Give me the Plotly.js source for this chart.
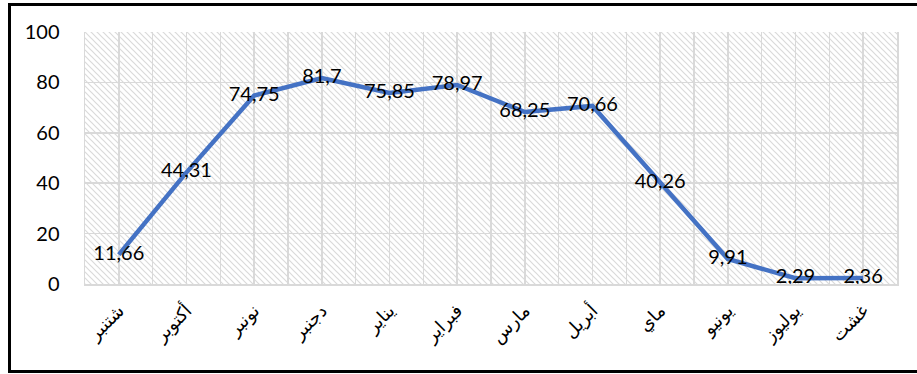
<!DOCTYPE html>
<html>
<head>
<meta charset="utf-8">
<script src="https://cdn.plot.ly/plotly-3.0.1.min.js"></script>
<style>
  html, body { margin: 0; padding: 0; background: #ffffff; }
  #wrap { position: relative; width: 917px; height: 374px; overflow: hidden; }
  #chart { position: absolute; left: 0; top: 0; width: 917px; height: 374px; }
  #frame {
    position: absolute; left: 8px; top: 3px; width: 930px; height: 364px;
    border: 3px solid #000000; pointer-events: none;
  }
</style>
</head>
<body>
<div id="wrap">
  <div id="chart"></div>
  <div id="frame"></div>
</div>
<script>
// Months of the season (Moroccan month names)
const months = ['شتنبر', 'أكتوبر', 'نونبر', 'دجنبر', 'يناير', 'فبراير',
                'مارس', 'أبريل', 'ماي', 'يونيو', 'يوليوز', 'غشت'];
// Monthly values
const values = [11.66, 44.31, 74.75, 81.7, 75.85, 78.97,
                68.25, 70.66, 40.26, 9.91, 2.29, 2.36];
// Value axis ticks
const yTicks = [0, 20, 40, 60, 80, 100];

const idx = months.map((_, i) => i);
const labels = values.map(v => String(v).replace('.', ','));

// Diagonal hatch for the plotting area
const hatch =
  "<svg xmlns='http://www.w3.org/2000/svg' width='812' height='252'>" +
  "<defs><pattern id='h' patternUnits='userSpaceOnUse' width='6' height='6'>" +
  "<path d='M-1,-1 L7,7 M5,-1 L7,1 M-1,5 L1,7' stroke='#dadada' stroke-width='1.2'/>" +
  "</pattern></defs><rect width='812' height='252' fill='url(#h)'/></svg>";

const trace = {
  x: idx,
  y: values,
  type: 'scatter',
  mode: 'lines+text',
  line: { color: '#4472C4', width: 4.5, shape: 'linear' },
  text: labels,
  textposition: 'middle center',
  textfont: { family: 'Lato, Carlito, sans-serif', size: 20, color: '#000000' },
  hoverinfo: 'skip',
  cliponaxis: false
};

const gridColor = '#d9d9d9';

const layout = {
  width: 917,
  height: 374,
  margin: { l: 85, r: 20, t: 32, b: 90 },
  paper_bgcolor: '#ffffff',
  plot_bgcolor: 'rgba(0,0,0,0)',
  showlegend: false,
  images: [{
    source: 'data:image/svg+xml;charset=utf-8,' + encodeURIComponent(hatch),
    xref: 'paper', yref: 'paper',
    x: 0, y: 1, sizex: 1, sizey: 1,
    xanchor: 'left', yanchor: 'top',
    sizing: 'stretch', layer: 'below'
  }],
  xaxis: {
    type: 'linear',
    range: [-0.5, idx.length - 0.5],
    tickmode: 'array',
    tickvals: idx,
    ticktext: months,
    tickangle: -45,
    ticks: '',
    ticklabelstandoff: 7,
    showgrid: true,
    gridcolor: gridColor,
    gridwidth: 1.5,
    minor: { tickmode: 'linear', tick0: -0.5, dtick: 1, showgrid: true, gridcolor: gridColor, gridwidth: 1.5, ticks: '' },
    showline: true,
    linecolor: gridColor,
    linewidth: 2,
    mirror: false,
    zeroline: false,
    tickfont: { family: 'DejaVu Sans, sans-serif', size: 18, color: '#000000' },
    fixedrange: true
  },
  yaxis: {
    range: [0, 100],
    tickmode: 'array',
    tickvals: yTicks,
    ticktext: yTicks.map(String),
    ticks: '',
    ticklabelstandoff: 20,
    showgrid: true,
    gridcolor: gridColor,
    gridwidth: 1.5,
    showline: true,
    linecolor: gridColor,
    linewidth: 1.5,
    mirror: true,
    zeroline: false,
    tickfont: { family: 'Lato, Carlito, sans-serif', size: 20, color: '#000000' },
    fixedrange: true
  }
};

Plotly.newPlot('chart', [trace], layout, { displayModeBar: false, staticPlot: true });
</script>
</body>
</html>
